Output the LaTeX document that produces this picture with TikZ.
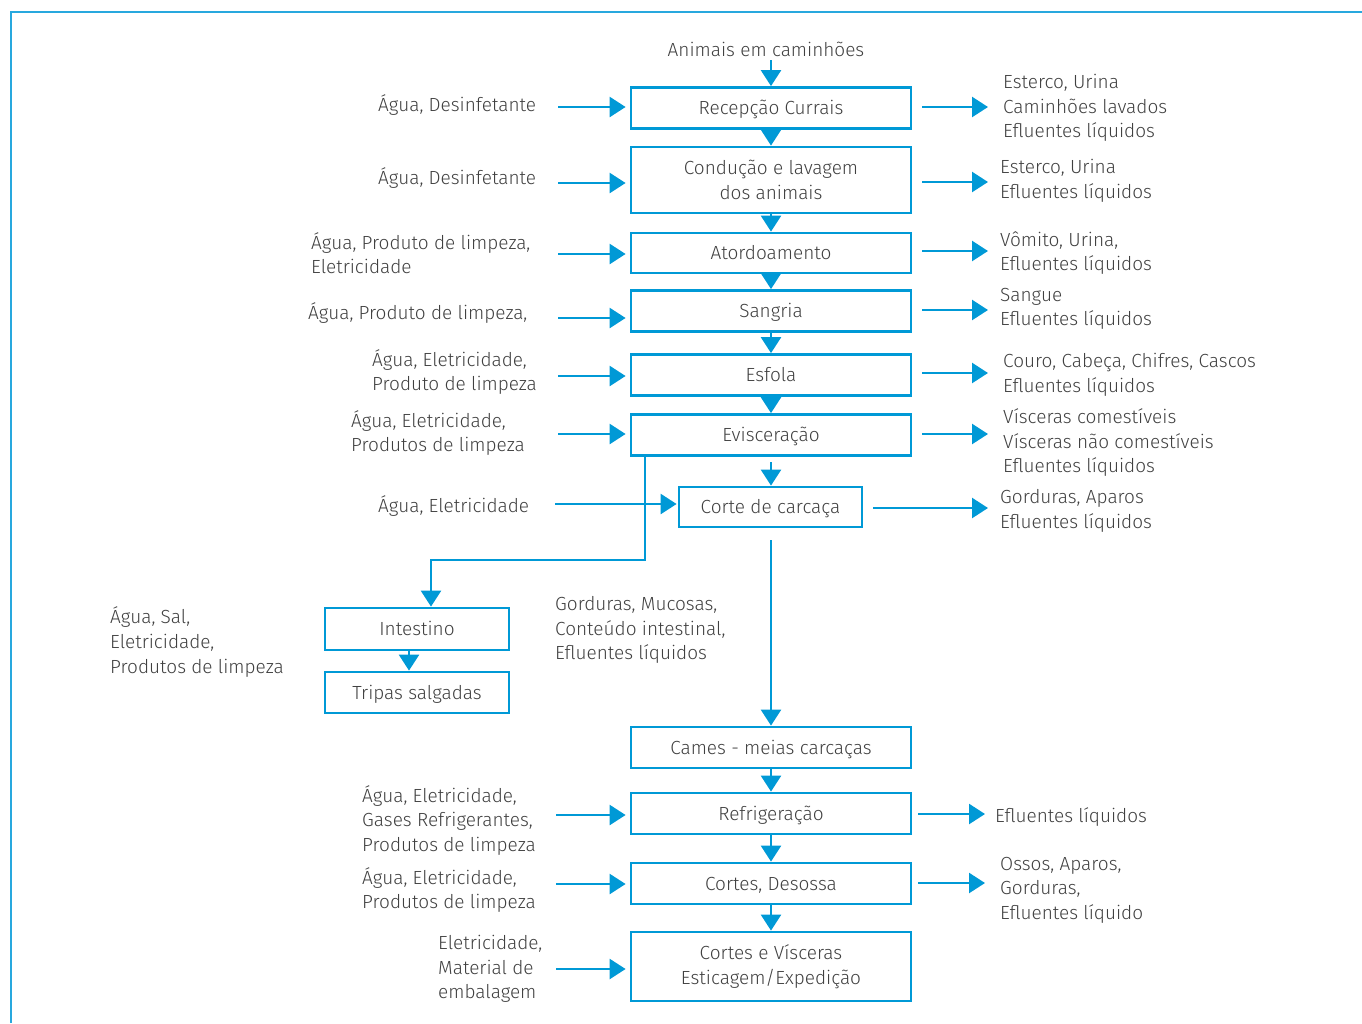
\documentclass[tikz,border=0pt]{standalone}
\usepackage{fontspec}
\setmainfont{Fira Sans}[UprightFont=* Light]
\usetikzlibrary{arrows.meta}
\definecolor{fblue}{RGB}{0,153,214}
\definecolor{frameblue}{RGB}{40,168,222}
\definecolor{txt}{RGB}{64,64,64}
\begin{document}
\begin{tikzpicture}[x=1pt,y=-1pt,
  box/.style={draw=fblue, line width=2.8pt, fill=white, inner sep=0pt, align=center, text=txt, font=\fontsize{19}{24.5}\selectfont},
  one/.style={text height=16pt, text depth=3pt},
  lbl/.style={inner sep=0pt, align=left, anchor=west, text=txt, yshift=-2pt, font=\fontsize{19}{24.5}\selectfont},
  arr/.style={draw=fblue, line width=2.5pt, -{Triangle[length=16pt,width=20pt]}},
  flow/.style={draw=fblue, line width=2.5pt}]
\useasboundingbox (0,0) rectangle (1362,1023);
\draw[frameblue, line width=2pt] (11,1023) -- (11,12) -- (1362,12);

% boxes
\node[box, one, minimum width=280pt, minimum height=41pt] (recep) at (771,108) {Recepção Currais};
\node[box, minimum width=280pt, minimum height=66pt, yshift=0pt] (cond) at (771,180) {Condução e lavagem\\dos animais};
\node[box, one, minimum width=280pt, minimum height=40pt] (ator) at (771,253) {Atordoamento};
\node[box, one, minimum width=280pt, minimum height=41pt] (sang) at (771,311) {Sangria};
\node[box, one, minimum width=280pt, minimum height=41pt] (esfo) at (771,375) {Esfola};
\node[box, one, minimum width=280pt, minimum height=41pt] (evis) at (771,435) {Evisceração};
\node[box, one, minimum width=183pt, minimum height=40pt] (corte) at (770.5,507) {Corte de carcaça};
\node[box, one, minimum width=184pt, minimum height=42pt] (intest) at (417,629) {Intestino};
\node[box, one, minimum width=184pt, minimum height=41pt] (tripas) at (417,692.5) {Tripas salgadas};
\node[box, one, minimum width=280pt, minimum height=41pt] (cames) at (771,747.5) {Cames - meias carcaças};
\node[box, one, minimum width=280pt, minimum height=41pt] (refr) at (771,813.5) {Refrigeração};
\node[box, one, minimum width=280pt, minimum height=41pt] (cdes) at (771,883.5) {Cortes, Desossa};
\node[box, minimum width=280pt, minimum height=69pt] (cvis) at (771,966.5) {Cortes e Vísceras\\Esticagem/Expedição};

% labels
\node[text=txt, inner sep=0pt, font=\fontsize{19}{24.5}\selectfont] (anim) at (766,49) {Animais em caminhões};
\node[lbl] (l1) at (378,103) {Água, Desinfetante};
\node[lbl] (r1) at (1003,106) {Esterco, Urina\\Caminhões lavados\\Efluentes líquidos};
\node[lbl] (l2) at (378,176) {Água, Desinfetante};
\node[lbl] (r2) at (1000,179) {Esterco, Urina\\Efluentes líquidos};
\node[lbl] (l3) at (311,251) {Água, Produto de limpeza,\\Eletricidade};
\node[lbl] (r3) at (1000,251) {Vômito, Urina,\\Efluentes líquidos};
\node[lbl] (l4) at (308,311) {Água, Produto de limpeza,};
\node[lbl] (r4) at (1000,307) {Sangue\\Efluentes líquidos};
\node[lbl] (l5) at (372,370) {Água, Eletricidade,\\Produto de limpeza};
\node[lbl] (r5) at (1003,373) {Couro, Cabeça, Chifres, Cascos\\Efluentes líquidos};
\node[lbl] (l6) at (351,431) {Água, Eletricidade,\\Produtos de limpeza};
\node[lbl] (r6) at (1003,441) {Vísceras comestíveis\\Vísceras não comestíveis\\Efluentes líquidos};
\node[lbl] (l7) at (378,504) {Água, Eletricidade};
\node[lbl] (r7) at (1000,509) {Gorduras, Aparos\\Efluentes líquidos};
\node[lbl] (lint) at (110,640) {Água, Sal,\\Eletricidade,\\Produtos de limpeza};
\node[lbl] (mid) at (555,628) {Gorduras, Mucosas,\\Conteúdo intestinal,\\Efluentes líquidos};
\node[lbl] (l8) at (362,818) {Água, Eletricidade,\\Gases Refrigerantes,\\Produtos de limpeza};
\node[lbl] (r8) at (995,815) {Efluentes líquidos};
\node[lbl] (l9) at (362,888) {Água, Eletricidade,\\Produtos de limpeza};
\node[lbl] (r9) at (1000,888) {Ossos, Aparos,\\Gorduras,\\Efluentes líquido};
\node[lbl] (l10) at (438,967) {Eletricidade,\\Material de\\embalagem};

% free ends of side arrows
\coordinate (a0) at (771,60);
\coordinate (a1) at (558,107);  \coordinate (b1) at (922,107); \coordinate (c1) at (988,107);
\coordinate (a2) at (558,183);  \coordinate (b2) at (922,182); \coordinate (c2) at (988,182);
\coordinate (a3) at (558,254);  \coordinate (b3) at (922,251); \coordinate (c3) at (988,251);
\coordinate (a4) at (558,318);  \coordinate (b4) at (922,310); \coordinate (c4) at (988,310);
\coordinate (a5) at (558,376);  \coordinate (b5) at (922,373); \coordinate (c5) at (988,373);
\coordinate (a6) at (558,434);  \coordinate (b6) at (922,434); \coordinate (c6) at (988,434);
\coordinate (a7) at (555,504);  \coordinate (b7) at (873,508); \coordinate (c7) at (988,508);
\coordinate (a8) at (556,815);  \coordinate (b8) at (918,814); \coordinate (c8) at (985,814);
\coordinate (a9) at (556,884);  \coordinate (b9) at (918,883); \coordinate (c9) at (985,883);
\coordinate (a10) at (556,969);
\coordinate (ev1) at (771,462);
\coordinate (co1) at (771,540);
\coordinate (br1) at (645,560);
\coordinate (br2) at (431,560);

% main flow
\draw[arr] (a0) -- (recep.north);
\draw[arr] (recep.south) -- (cond.north);
\draw[arr] (cond.south) -- (ator.north);
\draw[arr] (ator.south) -- (sang.north);
\draw[arr] (sang.south) -- (esfo.north);
\draw[arr] (esfo.south) -- (evis.north);
\draw[arr] (ev1) -- (ev1 |- corte.north);
\draw[arr] (co1) -- (co1 |- cames.north);
\draw[arr] (cames.south) -- (refr.north);
\draw[arr] (refr.south) -- (cdes.north);
\draw[arr] (cdes.south) -- (cvis.north);
% branch to intestine
\draw[flow, -{Triangle[length=16pt,width=20pt]}] (br1 |- evis.south) -- (br1) -- (br2) -- (br2 |- intest.north);
\draw[arr] ([xshift=-8pt]intest.south) -- ([xshift=-8pt]tripas.north);

% inputs
\draw[arr] (a1) -- ([xshift=-4pt]a1 -| recep.west);
\draw[arr] (a2) -- ([xshift=-4pt]a2 -| cond.west);
\draw[arr] (a3) -- ([xshift=-4pt]a3 -| ator.west);
\draw[arr] (a4) -- ([xshift=-4pt]a4 -| sang.west);
\draw[arr] (a5) -- ([xshift=-4pt]a5 -| esfo.west);
\draw[arr] (a6) -- ([xshift=-4pt]a6 -| evis.west);
\draw[arr] (a7) -- ([xshift=-1pt]a7 -| corte.west);
\draw[arr] (a8) -- ([xshift=-4pt]a8 -| refr.west);
\draw[arr] (a9) -- ([xshift=-4pt]a9 -| cdes.west);
\draw[arr] (a10) -- ([xshift=-4pt]a10 -| cvis.west);

% outputs
\draw[arr] (b1) -- (c1);
\draw[arr] (b2) -- (c2);
\draw[arr] (b3) -- (c3);
\draw[arr] (b4) -- (c4);
\draw[arr] (b5) -- (c5);
\draw[arr] (b6) -- (c6);
\draw[arr] (b7) -- (c7);
\draw[arr] (b8) -- (c8);
\draw[arr] (b9) -- (c9);
\end{tikzpicture}
\end{document}
